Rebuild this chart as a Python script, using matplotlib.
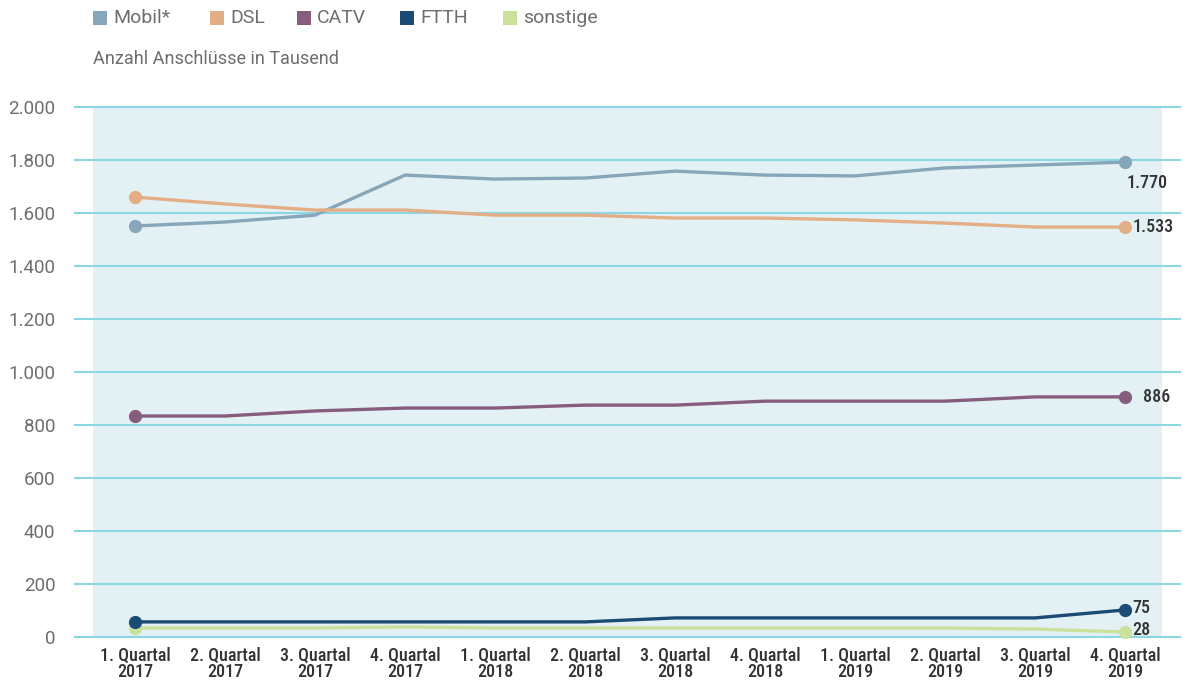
import matplotlib

matplotlib.use("Agg")
import matplotlib.pyplot as plt
from matplotlib.patches import Rectangle

quarters = ["1. Quartal\n2017", "2. Quartal\n2017", "3. Quartal\n2017", "4. Quartal\n2017",
            "1. Quartal\n2018", "2. Quartal\n2018", "3. Quartal\n2018", "4. Quartal\n2018",
            "1. Quartal\n2019", "2. Quartal\n2019", "3. Quartal\n2019", "4. Quartal\n2019"]

mobil = [1551, 1566, 1592, 1743, 1728, 1732, 1758, 1743, 1740, 1770, 1781, 1792]
dsl = [1660, 1634, 1611, 1611, 1592, 1592, 1581, 1581, 1574, 1562, 1547, 1547]
catv = [834, 834, 853, 864, 864, 875, 875, 890, 890, 890, 906, 906]
ftth = [57, 57, 57, 57, 57, 57, 72, 72, 72, 72, 72, 102]
sonstige = [34, 34, 34, 38, 34, 34, 34, 34, 34, 34, 30, 19]

series_names = ["Mobil*", "DSL", "CATV", "FTTH", "sonstige"]
end_labels = ["1.770", "1.533", "886", "75", "28"]
colors = ["#87a6b9", "#e3ae85", "#875d7e", "#1b4a74", "#cbe09a"]

yticks = [0, 200, 400, 600, 800, 1000, 1200, 1400, 1600, 1800, 2000]
ytick_labels = ["0", "200", "400", "600", "800", "1.000", "1.200", "1.400", "1.600", "1.800", "2.000"]

COND = ["Roboto Condensed", "Roboto", "DejaVu Sans"]
SANS = ["Roboto", "DejaVu Sans"]
GREY = "#6e6e6e"

fig = plt.figure(figsize=(11.83, 6.82), dpi=100)
ax = fig.add_axes([75 / 1183, 45 / 682, 1105 / 1183, 530 / 682])
x = list(range(len(quarters)))
ax.set_xlim(-0.667, 11.611)
ax.set_ylim(0, 2000)

# light blue plot background (narrower than the gridlines)
ax.add_patch(Rectangle((-0.467, 0), 11.878, 2000, facecolor="#e3f1f5", edgecolor="none", zorder=0))
for yt in yticks:
    ax.axhline(yt, color="#8dd6e4", lw=1.5, zorder=1, clip_on=False)

data = [mobil, dsl, catv, ftth, sonstige]
zorders = [4, 4, 4, 5, 3]
for vals, col, zo in zip(data, colors, zorders):
    ax.plot(x, vals, color=col, lw=2.4, zorder=zo, solid_joinstyle="round")
    ax.plot([x[0], x[-1]], [vals[0], vals[-1]], "o", color=col, ms=8.5, zorder=zo, clip_on=False)

# end-of-line value labels
lab_kw = dict(fontsize=13, fontweight="medium", color="#333333", family=COND, va="center")
ax.text(11.25, 1713, end_labels[0], ha="center", **lab_kw)
ax.text(11.08, dsl[-1], end_labels[1], ha="left", **lab_kw)
ax.text(11.2, catv[-1], end_labels[2], ha="left", **lab_kw)
ax.text(11.08, ftth[-1] + 8, end_labels[3], ha="left", **lab_kw)
ax.text(11.08, 26, end_labels[4], ha="left", **lab_kw)

ax.set_yticks(yticks)
ax.set_yticklabels(ytick_labels, fontsize=13.5, color=GREY, family=SANS)
ax.set_xticks(x)
ax.set_xticklabels(quarters, fontsize=13, fontweight="medium", color="#333333",
                   family=COND, linespacing=0.9)
ax.tick_params(length=0)
ax.tick_params(axis="y", pad=14)
ax.tick_params(axis="x", pad=7)
for s in ax.spines.values():
    s.set_visible(False)

# legend row
leg_x = [93, 210, 297, 400, 503]
for lx, name, col in zip(leg_x, series_names, colors):
    fig.patches.append(Rectangle((lx / 1183, 1 - 25 / 682), 14 / 1183, 14 / 682,
                                 transform=fig.transFigure, facecolor=col, edgecolor="none"))
    fig.text((lx + 20) / 1183, 1 - 18 / 682, name, fontsize=14, color=GREY, va="center",
             family=SANS)

fig.text(93 / 1183, 1 - 59 / 682, "Anzahl Anschlüsse in Tausend", fontsize=13, color=GREY,
         va="center", family=SANS)

fig.savefig("out.png", dpi=100)
